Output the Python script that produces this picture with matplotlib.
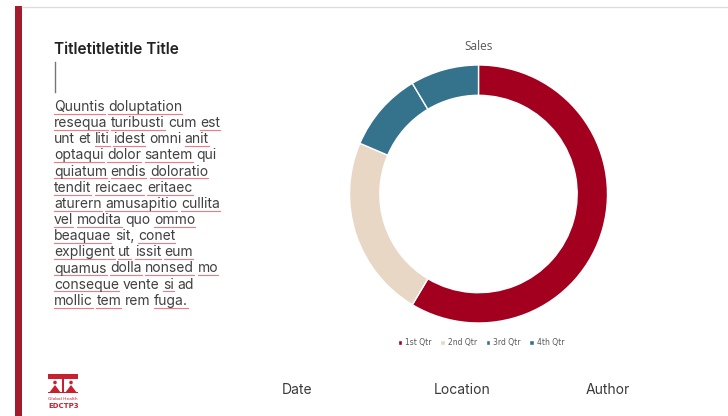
import matplotlib
matplotlib.use("Agg")
import matplotlib.pyplot as plt
from matplotlib.patches import Rectangle, Polygon, Circle

# ---- data ----
categories = ["1st Qtr", "2nd Qtr", "3rd Qtr", "4th Qtr"]
sales = [8.2, 3.2, 1.4, 1.2]
colors = ["#A3001F", "#E8D7C5", "#35738D", "#35738D"]
chart_title = "Sales"
slide_title = "Titletitletitle Title"
body_lines = [
    [("Quuntis", 1), ("doluptation", 1)],
    [("resequa", 1), ("turibusti", 1), ("cum", 0), ("est", 1)],
    [("unt", 0), ("et", 0), ("liti", 1), ("idest", 1), ("omni", 0), ("anit", 1)],
    [("optaqui", 1), ("dolor", 1), ("santem", 1), ("qui", 0)],
    [("quiatum", 1), ("endis", 1), ("doloratio", 1)],
    [("tendit", 1), ("reicaec", 1), ("eritaec", 1)],
    [("aturern", 1), ("amusapitio", 1), ("cullita", 1)],
    [("vel", 1), ("modita", 1), ("quo", 0), ("ommo", 1)],
    [("beaquae", 1), ("sit,", 0), ("conet", 1)],
    [("expligent", 1), ("ut", 1), ("issit", 1), ("eum", 1)],
    [("quamus", 1), ("dolla", 1), ("nonsed", 1), ("mo", 1)],
    [("conseque", 1), ("vente", 0), ("si", 1), ("ad", 0)],
    [("mollic", 1), ("tem", 1), ("rem", 0), ("fuga.", 1)],
]
footer = ["Date", "Location", "Author"]

W, H = 728, 416
fig = plt.figure(figsize=(W / 100, H / 100), dpi=100)
fig.patch.set_facecolor("white")

# overlay axes in pixel coordinates
ov = fig.add_axes([0, 0, 1, 1])
ov.set_xlim(0, W)
ov.set_ylim(H, 0)
ov.axis("off")

# frame decorations
ov.add_patch(Rectangle((15, 6), 7, H - 6, color="#A31B2D", lw=0))
ov.plot([22, W], [6.5, 6.5], color="#DCDCDC", lw=1)

# title and cursor
ov.text(54, 49, slide_title, fontsize=11.1, fontweight="semibold",
        family="Inter", color="#222222", va="center", ha="left")
ov.plot([54.5, 54.5], [62, 92], color="#777777", lw=1)

# body text with spell-check underlines
fig.canvas.draw()
renderer = fig.canvas.get_renderer()
body_font = dict(fontsize=10.0, family="Inter", color="#404040")

def text_width(s):
    t = ov.text(0, 0, s, **body_font)
    bb = t.get_window_extent(renderer)
    t.remove()
    return bb.width

space_w = (text_width("a a") - text_width("aa")) - 0.3
y0, dy = 107, 16.15
for i, line in enumerate(body_lines):
    y = y0 + i * dy
    x = 54
    for word, flag in line:
        ov.text(x, y, word, va="center", ha="left", **body_font)
        w = text_width(word)
        if flag:
            ov.plot([x, x + w], [y + 6.8, y + 6.8], color="#F07A85", lw=0.8)
        x += w + space_w

# footer text
for xx, s in zip([282, 434, 586], footer):
    ov.text(xx, 390, s, fontsize=10, family="Inter", color="#3a3a3a",
            va="center", ha="left")

# logo (approximate)
red = "#C8202F"
ov.add_patch(Rectangle((48, 374), 30, 5, color=red, lw=0))
ov.add_patch(Rectangle((62, 374), 2, 19, color=red, lw=0))
for hx in (55, 71):
    ov.add_patch(Circle((hx, 382.5), 1.8, color=red, lw=0))
    ov.add_patch(Polygon([[hx - 6, 393], [hx, 385], [hx + 6, 393]], closed=True,
                         color=red, lw=0))
ov.add_patch(Rectangle((48, 392), 30, 1.2, color=red, lw=0))
ov.text(48, 399, "Global Health", fontsize=3.2, color=red, va="center", ha="left")
ov.text(48, 406, "EDCTP3", fontsize=5, color=red, va="center", ha="left",
        fontweight="bold")

# donut chart
cx, cy, R = 478.5, 194, 129
ax = fig.add_axes([(cx - R) / W, (H - cy - R) / H, 2 * R / W, 2 * R / H])
wedges, _ = ax.pie(sales, colors=colors, startangle=90, counterclock=False,
                   radius=1.0,
                   wedgeprops=dict(width=0.235, edgecolor="white", linewidth=1.0))
ax.set_xlim(-1, 1)
ax.set_ylim(-1, 1)
ax.set_aspect("equal")
ax.axis("off")

fig.text(cx / W, 1 - 47 / H, chart_title, fontsize=8.5, color="#595959",
         ha="center", va="center", family="Open Sans")

fig.legend(wedges, categories, loc="center", ncol=4,
           bbox_to_anchor=(481 / W, 1 - 343 / H), frameon=False,
           handlelength=0.6, handleheight=0.6,
           handletextpad=0.4, columnspacing=1.1,
           prop=dict(family="Liberation Sans Narrow", size=5.5),
           labelcolor="#595959")

fig.savefig("out.png", dpi=100, facecolor="white")
